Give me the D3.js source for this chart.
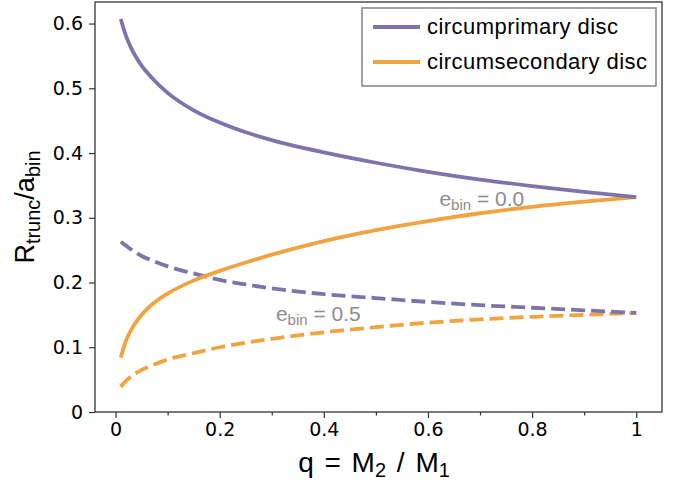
<!DOCTYPE html>
<html>
<head>
<meta charset="utf-8">
<script src="https://cdn.jsdelivr.net/npm/d3@7"></script>
<style>
  body { margin: 0; background: #fff; }
  .tick text { font-family: "DejaVu Sans", sans-serif; font-size: 19px; fill: #000; }
  .axis path, .axis line { stroke: #333; }
  .lab { font-family: "Liberation Sans", Arial, sans-serif; fill: #000; }
</style>
</head>
<body>
<script>
// mass ratio grid and truncation radii (in units of a_bin)
var q = [0.01, 0.02, 0.03, 0.05, 0.07, 0.1, 0.15, 0.2, 0.25, 0.3, 0.4, 0.5, 0.6, 0.7, 0.8, 0.9, 1.0];

var primE0   = [0.607, 0.581, 0.562, 0.535, 0.516, 0.493, 0.466, 0.447, 0.432, 0.420, 0.401, 0.385, 0.371, 0.359, 0.349, 0.340, 0.332];
var secE0    = [0.084, 0.110, 0.127, 0.150, 0.166, 0.183, 0.203, 0.218, 0.231, 0.243, 0.264, 0.281, 0.295, 0.307, 0.317, 0.325, 0.332];
var primE05  = [0.263, 0.257, 0.251, 0.241, 0.234, 0.225, 0.214, 0.204, 0.197, 0.191, 0.182, 0.176, 0.170, 0.165, 0.161, 0.157, 0.153];
var secE05   = [0.039, 0.048, 0.055, 0.065, 0.072, 0.081, 0.091, 0.100, 0.107, 0.113, 0.123, 0.131, 0.138, 0.143, 0.147, 0.150, 0.153];

var xTicks = [0, 0.2, 0.4, 0.6, 0.8, 1];
var xMinor = [0.1, 0.3, 0.5, 0.7, 0.9];
var yTicks = [0, 0.1, 0.2, 0.3, 0.4, 0.5, 0.6];

var purple = "#8073ac", orange = "#f1a340";

var W = 679, H = 481;
var margin = { top: 2, right: 17, bottom: 69, left: 95 },
    width = W - margin.left - margin.right,
    height = H - margin.top - margin.bottom;

var svg = d3.select("body").append("svg")
  .attr("width", W)
  .attr("height", H);

var g = svg.append("g")
  .attr("transform", "translate(" + margin.left + "," + margin.top + ")");

var x = d3.scaleLinear().domain([-0.0395, 1.0495]).range([0, width]);
var y = d3.scaleLinear().domain([0, 0.6333]).range([height, 0]);

var fmt = function(d) { return d === 0 ? "0" : d === 1 ? "1" : d3.format(".1f")(d); };

// minor x ticks
g.append("g")
  .attr("class", "axis")
  .attr("transform", "translate(0," + height + ")")
  .call(d3.axisBottom(x).tickValues(xMinor).tickSize(3.5).tickFormat(""))
  .select(".domain").remove();

g.append("g")
  .attr("class", "axis")
  .attr("transform", "translate(0," + height + ")")
  .call(d3.axisBottom(x).tickValues(xTicks).tickSize(6).tickPadding(5).tickFormat(fmt))
  .select(".domain").remove();

g.append("g")
  .attr("class", "axis")
  .call(d3.axisLeft(y).tickValues(yTicks).tickSize(6).tickPadding(6).tickFormat(fmt))
  .select(".domain").remove();

g.selectAll(".axis line").attr("stroke-width", 1.2);

// frame
g.append("rect")
  .attr("width", width)
  .attr("height", height)
  .attr("fill", "none")
  .attr("stroke", "#333")
  .attr("stroke-width", 1.3);

var line = function(vals) {
  return d3.line()
    .curve(d3.curveMonotoneX)
    .x(function(d, i) { return x(q[i]); })
    .y(function(d) { return y(d); })(vals);
};

var series = [
  { v: secE05, c: orange, dash: "14,6" },
  { v: primE05, c: purple, dash: "14,6" },
  { v: secE0, c: orange, dash: null },
  { v: primE0, c: purple, dash: null }
];

g.selectAll(".curve")
  .data(series)
  .enter().append("path")
  .attr("class", "curve")
  .attr("d", function(d) { return line(d.v); })
  .attr("fill", "none")
  .attr("stroke", function(d) { return d.c; })
  .attr("stroke-width", 3.8)
  .attr("stroke-dasharray", function(d) { return d.dash; });

// eccentricity annotations
function ecc(xp, yp, val) {
  var t = g.append("text")
    .attr("class", "lab")
    .attr("x", xp).attr("y", yp)
    .style("font-size", "21px")
    .style("fill", "#8c8c8c");
  t.append("tspan").text("e");
  t.append("tspan").attr("dy", 4).style("font-size", "15px").text("bin");
  t.append("tspan").attr("dy", -4).text(" = " + val);
}
ecc(x(0.622), y(0.318), "0.0");
ecc(x(0.308), y(0.140), "0.5");

// legend
var lg = g.append("g").attr("transform", "translate(" + (362 - margin.left) + "," + (8 - margin.top) + ")");
lg.append("rect")
  .attr("width", 294).attr("height", 78)
  .attr("fill", "#fff")
  .attr("stroke", "#8a8a8a")
  .attr("stroke-width", 1.6);

var legendItems = [
  { name: "circumprimary disc", c: purple },
  { name: "circumsecondary disc", c: orange }
];
legendItems.forEach(function(d, i) {
  var yy = 19 + i * 35;
  lg.append("line")
    .attr("x1", 11).attr("x2", 58)
    .attr("y1", yy).attr("y2", yy)
    .attr("stroke", d.c).attr("stroke-width", 4);
  lg.append("text")
    .attr("class", "lab")
    .attr("x", 65).attr("y", yy + 7)
    .style("font-size", "22px")
    .style("letter-spacing", "0.45px")
    .text(d.name);
});

// axis labels
var xl = svg.append("text")
  .attr("class", "lab")
  .attr("x", 374).attr("y", 472)
  .attr("text-anchor", "middle")
  .style("font-size", "28px")
  .style("word-spacing", "3px");
xl.append("tspan").text("q = M");
xl.append("tspan").attr("dy", 5).style("font-size", "20px").text("2");
xl.append("tspan").attr("dy", -5).text(" / M");
xl.append("tspan").attr("dy", 5).style("font-size", "20px").text("1");

var yl = svg.append("text")
  .attr("class", "lab")
  .attr("transform", "translate(34,207) rotate(-90)")
  .attr("text-anchor", "middle")
  .style("font-size", "27px");
yl.append("tspan").text("R");
yl.append("tspan").attr("dy", 6).style("font-size", "20px").text("trunc");
yl.append("tspan").attr("dy", -6).text("/a");
yl.append("tspan").attr("dy", 6).style("font-size", "20px").text("bin");
</script>
</body>
</html>
